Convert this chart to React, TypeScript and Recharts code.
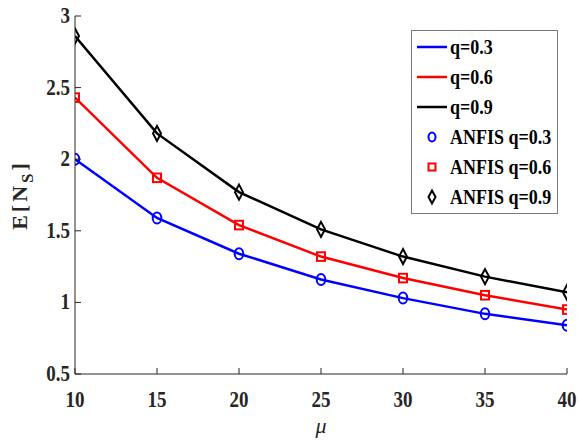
import React from 'react';
import { LineChart, Line, XAxis, YAxis, Legend } from 'recharts';

const mu = [10, 15, 20, 25, 30, 35, 40];
const q03 = [2.0, 1.59, 1.34, 1.16, 1.03, 0.92, 0.84];
const q06 = [2.43, 1.87, 1.54, 1.32, 1.17, 1.05, 0.95];
const q09 = [2.86, 2.18, 1.77, 1.51, 1.32, 1.18, 1.07];
const anfis03 = [2.0, 1.59, 1.34, 1.16, 1.03, 0.92, 0.84];
const anfis06 = [2.43, 1.87, 1.54, 1.32, 1.17, 1.05, 0.95];
const anfis09 = [2.86, 2.18, 1.77, 1.51, 1.32, 1.18, 1.07];
const xTicks = [10, 15, 20, 25, 30, 35, 40];
const yTicks = [0.5, 1, 1.5, 2, 2.5, 3];

const data = mu.map((m, i) => ({
  mu: m,
  q03: q03[i],
  q06: q06[i],
  q09: q09[i],
  a03: anfis03[i],
  a06: anfis06[i],
  a09: anfis09[i],
}));

const AX = '#262626';
const FONT = '"Liberation Serif", "Times New Roman", serif';
const TL = 6;

const BottomTick = (p: any) => {
  const { x, y, payload } = p;
  return (
    <g>
      <line x1={x} y1={y} x2={x} y2={y - TL} stroke={AX} strokeWidth={1} />
      <text x={x} y={y + 33} textAnchor="middle" fontFamily={FONT} fontWeight="bold" fontSize={19} fill={AX}
        transform={`translate(0 ${-(y + 33) * 0.18}) scale(1 1.18)`}>
        {payload.value}
      </text>
    </g>
  );
};
const TopTick = (p: any) => {
  const { x, y } = p;
  return <line x1={x} y1={y} x2={x} y2={y + TL} stroke={AX} strokeWidth={1} />;
};
const LeftTick = (p: any) => {
  const { x, y, payload } = p;
  const ty = y + 7;
  return (
    <g>
      <line x1={x} y1={y} x2={x + TL} y2={y} stroke={AX} strokeWidth={1} />
      <text x={x - 5} y={ty} textAnchor="end" fontFamily={FONT} fontWeight="bold" fontSize={19} fill={AX}
        transform={`translate(0 ${-ty * 0.18}) scale(1 1.18)`}>
        {payload.value}
      </text>
    </g>
  );
};
const RightTick = (p: any) => {
  const { x, y } = p;
  return <line x1={x} y1={y} x2={x - TL} y2={y} stroke={AX} strokeWidth={1} />;
};

const YLabel = (p: any) => {
  const vb = p.viewBox || { x: 0, y: 16, width: 75, height: 358 };
  const cx = vb.x + 27;
  const cy = vb.y + vb.height / 2;
  return (
    <text x={cx} y={cy} transform={`rotate(-90 ${cx} ${cy})`} textAnchor="middle" fontFamily={FONT}
      fontWeight="bold" fontSize={22} letterSpacing={3} fill={AX} style={{ fontWeight: 700 }}>
      E[N<tspan dy={6} fontSize={17}>S</tspan><tspan dy={-6}>]</tspan>
    </text>
  );
};
const XLabel = (p: any) => {
  const vb = p.viewBox || { x: 75, y: 374, width: 491, height: 66 };
  const cx = vb.x + vb.width / 2;
  return (
    <text x={cx} y={vb.y + 59} textAnchor="middle" fontFamily={FONT} fontStyle="italic" fontSize={22} fill={AX}>
      μ
    </text>
  );
};

const Circ = (p: any) => {
  const { cx, cy } = p;
  if (cx == null || cy == null) return null;
  return <ellipse key={`c${cx}`} cx={cx} cy={cy} rx={4.3} ry={5.5} fill="none" stroke="#0000FF" strokeWidth={2} />;
};
const Sq = (p: any) => {
  const { cx, cy } = p;
  if (cx == null || cy == null) return null;
  return <rect key={`s${cx}`} x={cx - 4} y={cy - 4.3} width={8} height={8.6} fill="none" stroke="#FF0000" strokeWidth={2} />;
};
const Dia = (p: any) => {
  const { cx, cy } = p;
  if (cx == null || cy == null) return null;
  return (
    <polygon key={`d${cx}`} points={`${cx},${cy - 7.5} ${cx + 4},${cy} ${cx},${cy + 7.5} ${cx - 4},${cy}`}
      fill="none" stroke="#000000" strokeWidth={2} />
  );
};

const legendItems = [
  { label: 'q=0.3', color: '#0000FF', kind: 'line' },
  { label: 'q=0.6', color: '#FF0000', kind: 'line' },
  { label: 'q=0.9', color: '#000000', kind: 'line' },
  { label: 'ANFIS q=0.3', color: '#0000FF', kind: 'circle' },
  { label: 'ANFIS q=0.6', color: '#FF0000', kind: 'square' },
  { label: 'ANFIS q=0.9', color: '#000000', kind: 'diamond' },
];

const LegendBox = () => (
  <svg width={147} height={184} style={{ display: 'block' }}>
    <rect x={0.5} y={0.5} width={146} height={183} fill="#ffffff" stroke="#7a7a7a" strokeWidth={1} />
    {legendItems.map((it, i) => {
      const y = 17 + i * 30;
      let mark: any = null;
      if (it.kind === 'line') mark = <line x1={6} y1={y} x2={36} y2={y} stroke={it.color} strokeWidth={2.5} />;
      if (it.kind === 'circle') mark = <ellipse cx={21} cy={y} rx={3.5} ry={4.5} fill="none" stroke={it.color} strokeWidth={2} />;
      if (it.kind === 'square') mark = <rect x={17.5} y={y - 3.5} width={7} height={7} fill="none" stroke={it.color} strokeWidth={2} />;
      if (it.kind === 'diamond')
        mark = <polygon points={`21,${y - 6.5} 24.5,${y} 21,${y + 6.5} 17.5,${y}`} fill="none" stroke={it.color} strokeWidth={2} />;
      const ty = y + 7;
      return (
        <g key={it.label}>
          {mark}
          <text x={39} y={ty} fontFamily={FONT} fontWeight="bold" fontSize={18} fill="#000"
            transform={`translate(0 ${-ty * 0.18}) scale(1 1.18)`}>
            {it.label}
          </text>
        </g>
      );
    })}
  </svg>
);

export default function App() {
  return (
    <div style={{ position: 'absolute', left: 0, top: 0, width: 579, height: 440, background: '#fff' }}>
      <LineChart width={579} height={440} data={data} margin={{ top: 16, right: 12, left: 0, bottom: 0 }}>
        <XAxis dataKey="mu" type="number" domain={[10, 40]} ticks={xTicks} height={66} tickSize={0} tickMargin={0}
          tickLine={false} axisLine={{ stroke: AX, strokeWidth: 1 }} tick={<BottomTick />} interval={0}
          label={<XLabel />} allowDataOverflow />
        <XAxis xAxisId="top" orientation="top" dataKey="mu" type="number" domain={[10, 40]} ticks={xTicks} height={0}
          tickSize={0} tickMargin={0} tickLine={false} axisLine={{ stroke: AX, strokeWidth: 1 }} tick={<TopTick />}
          interval={0} />
        <YAxis type="number" domain={[0.5, 3]} ticks={yTicks} width={75} tickSize={0} tickMargin={0} tickLine={false}
          axisLine={{ stroke: AX, strokeWidth: 1 }} tick={<LeftTick />} interval={0} label={<YLabel />} allowDataOverflow />
        <YAxis yAxisId="right" orientation="right" type="number" domain={[0.5, 3]} ticks={yTicks} width={0} tickSize={0}
          tickMargin={0} tickLine={false} axisLine={{ stroke: AX, strokeWidth: 1 }} tick={<RightTick />} interval={0} />
        <Line dataKey="q03" stroke="#0000FF" strokeWidth={2.5} dot={false} isAnimationActive={false} />
        <Line dataKey="q06" stroke="#FF0000" strokeWidth={2.5} dot={false} isAnimationActive={false} />
        <Line dataKey="q09" stroke="#000000" strokeWidth={2.5} dot={false} isAnimationActive={false} />
        <Line dataKey="a03" stroke="none" dot={<Circ />} activeDot={false} isAnimationActive={false} />
        <Line dataKey="a06" stroke="none" dot={<Sq />} activeDot={false} isAnimationActive={false} />
        <Line dataKey="a09" stroke="none" dot={<Dia />} activeDot={false} isAnimationActive={false} />
        <Legend layout="horizontal" verticalAlign="middle" align="center" content={<LegendBox />}
          wrapperStyle={{ position: 'absolute', left: 411, top: 30, width: 147, height: 184 }} />
      </LineChart>
    </div>
  );
}
